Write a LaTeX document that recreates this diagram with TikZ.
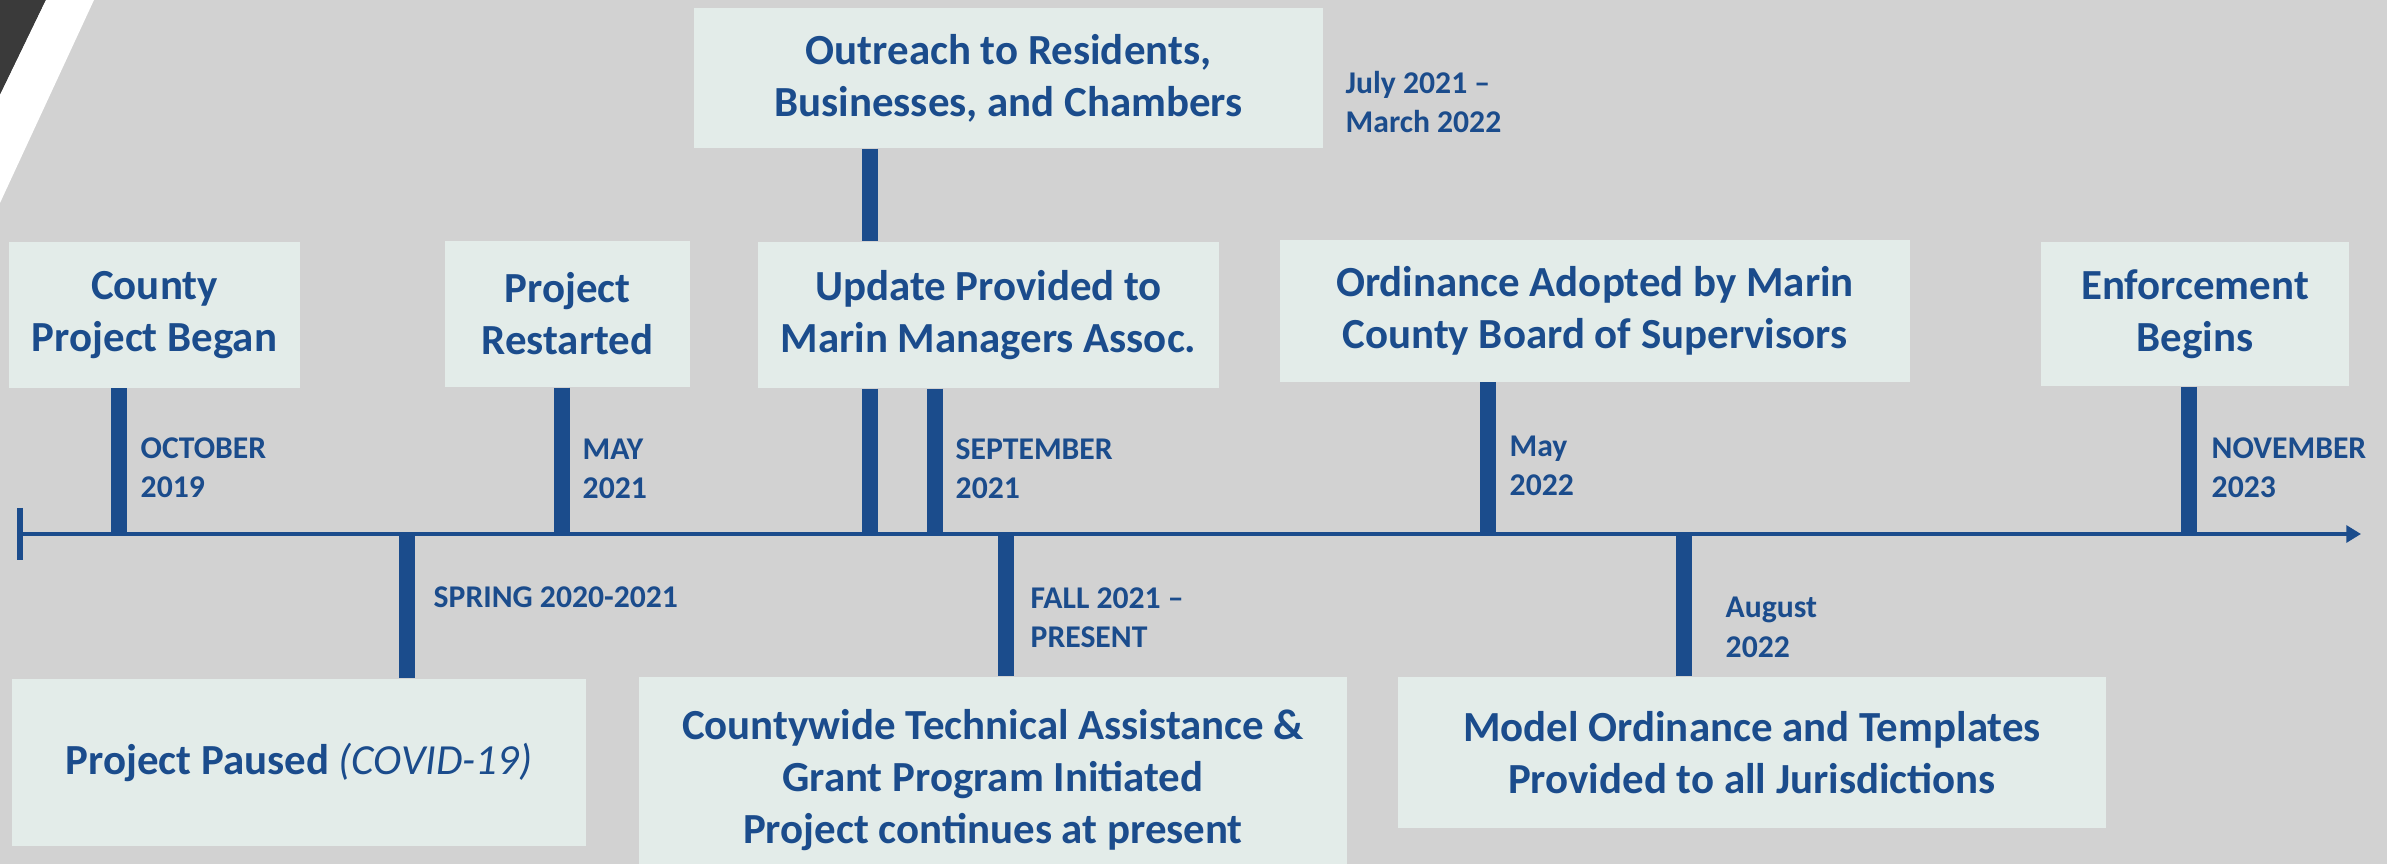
\documentclass[tikz,border=0pt]{standalone}
\usepackage{fontspec}
\setmainfont{Carlito}
\usetikzlibrary{arrows.meta,positioning}
\definecolor{bggray}{RGB}{210,210,210}
\definecolor{boxfill}{RGB}{227,236,233}
\definecolor{tlblue}{RGB}{27,76,140}
\definecolor{cornerdark}{RGB}{58,58,58}

\begin{document}
\begin{tikzpicture}[x=0.01cm, y=-0.01cm,
  every node/.style={text=tlblue, font=\bfseries},
  box/.style={fill=boxfill, inner sep=0pt, align=center, font=\fontsize{12.2}{14.8}\selectfont\bfseries},
  stem/.style={draw=tlblue, line width=4.3pt},
  datelabel/.style={anchor=base west, inner sep=0pt, align=left, font=\fontsize{9}{11.3}\selectfont\bfseries},
  axisline/.style={draw=tlblue, line width=1.2pt}
]

%========== BACKGROUND ==========
\fill[bggray] (0,0) rectangle (2387,864);
\useasboundingbox (0,0) rectangle (2387,864);
\fill[cornerdark] (0,0) -- (46,0) -- (0,95) -- cycle;
\fill[white] (46,0) -- (94,0) -- (0,203) -- (0,95) -- cycle;

%========== AXIS ==========
\coordinate (axstart) at (20,534);
\coordinate (axend)   at (2361,534);
\draw[axisline, -{Triangle[length=4.2pt, width=4.8pt]}] (axstart) -- (axend);
\draw[tlblue, line width=1.5pt] (axstart) ++(0,-26) -- ++(0,52);

\coordinate (tOct)    at (119,534);
\coordinate (tSpring) at (407,534);
\coordinate (tMay)    at (562,534);
\coordinate (tUpd)    at (870,534);
\coordinate (tSep)    at (935,534);
\coordinate (tFall)   at (1006,534);
\coordinate (tMayB)   at (1488,534);
\coordinate (tAug)    at (1684,534);
\coordinate (tNov)    at (2189,534);

%========== BOXES ==========
\node[box, minimum width=2.91cm, minimum height=1.45cm] (began)    at (154.5,315)  {County\\Project Began};
\node[box, minimum width=2.45cm, minimum height=1.46cm] (restart)  at (567.5,314)  {Project\\Restarted};
\node[box, minimum width=4.61cm, minimum height=1.46cm] (update)   at (988.5,315)  {Update Provided to\\Marin Managers Assoc.};
\node[box, minimum width=6.30cm, minimum height=1.41cm] (adopted)  at (1595,311)   {Ordinance Adopted by Marin\\County Board of Supervisors};
\node[box, minimum width=3.08cm, minimum height=1.44cm] (enforce)  at (2195,314)   {Enforcement\\Begins};
\node[box, minimum width=6.29cm, minimum height=1.40cm] (outreach) at (1008.5,78)  {Outreach to Residents,\\Businesses, and Chambers};
\node[box, minimum width=5.74cm, minimum height=1.67cm] (paused)   at (299,762.5)  {Project Paused {\mdseries\itshape (COVID-19)}};
\node[box, minimum width=7.08cm, minimum height=2.06cm] (grant)    at (993,780)    {Countywide Technical Assistance \&\\Grant Program Initiated\\Project continues at present};
\node[box, minimum width=7.08cm, minimum height=1.51cm] (model)    at (1752,752.5) {Model Ordinance and Templates\\Provided to all Jurisdictions};

%========== STEMS ==========
\draw[stem] (tOct |- began.south) -- (tOct);
\draw[stem] (tMay |- restart.south) -- (tMay);
\draw[stem] (tUpd |- outreach.south) -- (tUpd |- update.north);
\draw[stem] (tUpd |- update.south) -- (tUpd);
\draw[stem] (tSep |- update.south) -- (tSep);
\draw[stem] (tMayB |- adopted.south) -- (tMayB);
\draw[stem] (tNov |- enforce.south) -- (tNov);
\draw[stem] (tSpring) -- (tSpring |- paused.north);
\draw[stem] (tFall) -- (tFall |- grant.north);
\draw[stem] (tAug) -- (tAug |- model.north);

%========== DATES ==========
\node[datelabel] (dOct)    at (140,498)  {OCTOBER\\2019};
\node[datelabel] (dMay)    at (582,499)  {MAY\\2021};
\node[datelabel] (dSep)    at (955,499)  {SEPTEMBER\\2021};
\node[datelabel] (dMayB)   at (1509,496) {May\\2022};
\node[datelabel] (dNov)    at (2211,498) {NOVEMBER\\2023};
\node[datelabel] (dSpring) at (433,607)  {SPRING 2020-2021};
\node[datelabel] (dFall)   at (1030,648) {FALL 2021 --\\PRESENT};
\node[datelabel] (dAug)    at (1725,657) {August\\2022};
\node[datelabel] (dJuly)   at (1345,133) {July 2021 --\\March 2022};

\end{tikzpicture}
\end{document}
